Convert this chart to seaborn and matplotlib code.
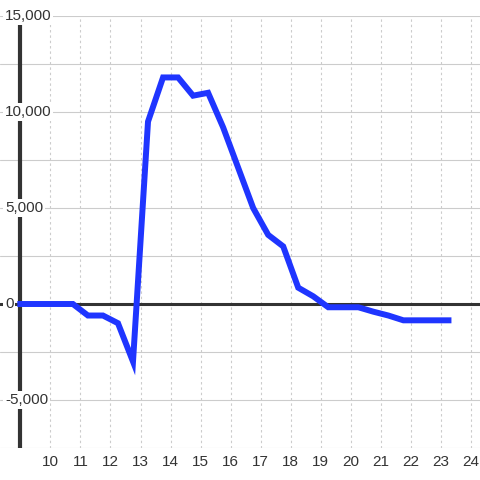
import matplotlib
matplotlib.use("Agg")
import matplotlib.pyplot as plt
import seaborn as sns
import pandas as pd

# ---- data ----
hours = [9.0, 9.25, 9.75, 10.25, 10.75, 11.25, 11.75, 12.25, 12.75, 13.25,
         13.75, 14.25, 14.75, 15.25, 15.75, 16.25, 16.75, 17.25, 17.75, 18.25,
         18.75, 19.25, 19.75, 20.25, 20.75, 21.25, 21.75, 22.25, 22.75, 23.25]
values = [0, 0, 0, 0, 0, -600, -600, -1000, -3000, 9500,
          11800, 11800, 10850, 11000, 9200, 7100, 5000, 3600, 3000, 850,
          400, -170, -170, -170, -400, -600, -850, -850, -850, -850]
x_ticks = list(range(10, 25))
y_ticks = [-5000, 0, 5000, 10000, 15000]
y_tick_labels = ["-5,000", "0", "5,000", "10,000", "15,000"]

df = pd.DataFrame({"hour": hours, "value": values})

sns.set_style("white")
plt.rcParams["font.family"] = ["Liberation Sans", "DejaVu Sans"]

fig = plt.figure(figsize=(4.8, 4.8), dpi=100)
ax = fig.add_axes([0, 32 / 480, 1, 432 / 480])
ax.set_xlim(9 - 20.3 / 30, 24 + 9 / 30)
ax.set_ylim(-7500, 15000)

# grid
for yv in range(-7500, 15001, 2500):
    if yv == 0:
        continue
    ax.axhline(yv, color="#cccccc", lw=0.8, zorder=1)
for xv in x_ticks:
    ax.axvline(xv, color="#cccccc", lw=0.8, ls=(0, (2.2, 2.6)), zorder=1)

# zero line and left axis line
ax.axhline(0, color="#333333", lw=2.2, zorder=2)
ax.axvline(9, color="#333333", lw=3, zorder=2)

sns.lineplot(data=df, x="hour", y="value", ax=ax, color="#1f35ff",
             lw=4.3, zorder=4, solid_joinstyle="miter",
             solid_capstyle="projecting")

for s in ax.spines.values():
    s.set_visible(False)
ax.set_xticks([])
ax.set_yticks([])
ax.set_xlabel("")
ax.set_ylabel("")

# y labels (inside, with white background)
for yv, lab in zip(y_ticks, y_tick_labels):
    ax.text(9 - 15.3 / 30, yv, lab, ha="left", va="center", fontsize=11,
            color="#333333", zorder=5, clip_on=False,
            bbox=dict(facecolor="white", edgecolor="none", pad=1.2))

# x labels
for xv in x_ticks:
    ax.text(xv, -7500 - 14 * 22500 / 432, str(xv), ha="center", va="center",
            fontsize=11, color="#333333", clip_on=False)

fig.savefig("out.png", dpi=100, facecolor="white")
